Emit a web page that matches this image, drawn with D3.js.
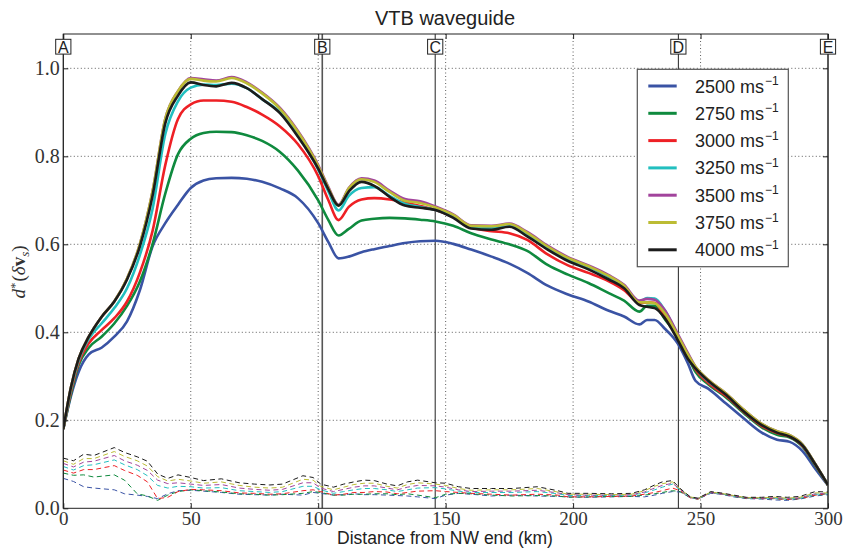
<!DOCTYPE html>
<html><head><meta charset="utf-8">
<script src="https://cdn.jsdelivr.net/npm/d3@7"></script>
<style>body{margin:0;background:#fff}</style>
</head><body><svg id="c" width="844" height="550"></svg>
<script>
// ---------- DATA ----------
const speeds = ["2500","2750","3000","3250","3500","3750","4000"];
const colors = ["#3a53a4","#0f8a3e","#ee2025","#22bfbf","#a2449c","#bcbc34","#1c1c1c"];
const xTicks = [0,50,100,150,200,250,300];
const yTicks = [0,0.2,0.4,0.6,0.8,1.0];
const markers = ["A","B","C","D","E"];
const markerKm = [0,101.6,145.9,241.3,300];

// solid curves: distance (km)
const SX = [0,3,6,10,15,20,25,30,35,40,45,50,55,60,66,72,78,85,92,100,104,108,112,117,122,128,134,140,146,153,160,168,175,182,190,198,206,214,220,226,229,232,236,241,245,248,253,260,267,274,280,285,290,295,300];
const s2500 = [0.18,0.255,0.31,0.35,0.365,0.39,0.425,0.495,0.595,0.648,0.69,0.728,0.745,0.75,0.751,0.749,0.742,0.727,0.705,0.648,0.605,0.568,0.572,0.582,0.589,0.596,0.603,0.607,0.608,0.601,0.588,0.572,0.556,0.535,0.506,0.486,0.47,0.449,0.436,0.418,0.428,0.428,0.408,0.375,0.33,0.29,0.272,0.238,0.204,0.172,0.156,0.151,0.13,0.09,0.052];
const s2750 = [0.18,0.26,0.325,0.365,0.39,0.42,0.46,0.515,0.6,0.715,0.805,0.84,0.853,0.856,0.855,0.848,0.835,0.81,0.768,0.7,0.655,0.62,0.635,0.654,0.658,0.66,0.659,0.656,0.652,0.642,0.625,0.611,0.6,0.585,0.553,0.531,0.512,0.489,0.472,0.447,0.46,0.46,0.43,0.39,0.345,0.31,0.282,0.252,0.216,0.184,0.167,0.161,0.14,0.097,0.053];
const s3000 = [0.18,0.265,0.33,0.375,0.405,0.432,0.47,0.535,0.63,0.78,0.885,0.918,0.927,0.927,0.924,0.912,0.895,0.868,0.828,0.755,0.7,0.655,0.685,0.702,0.705,0.702,0.695,0.687,0.678,0.662,0.638,0.63,0.625,0.61,0.577,0.552,0.535,0.516,0.496,0.467,0.468,0.467,0.435,0.388,0.348,0.316,0.285,0.255,0.219,0.187,0.171,0.163,0.142,0.099,0.053];
const s3250 = [0.18,0.27,0.335,0.385,0.42,0.455,0.5,0.575,0.68,0.85,0.925,0.956,0.963,0.962,0.965,0.955,0.93,0.9,0.848,0.77,0.72,0.677,0.71,0.728,0.73,0.71,0.692,0.685,0.678,0.663,0.638,0.637,0.641,0.622,0.59,0.566,0.548,0.526,0.503,0.47,0.478,0.477,0.45,0.395,0.35,0.32,0.289,0.259,0.222,0.19,0.174,0.165,0.144,0.1,0.053];
const s3500 = [0.18,0.275,0.34,0.39,0.435,0.47,0.522,0.6,0.72,0.885,0.948,0.978,0.975,0.972,0.98,0.968,0.945,0.91,0.858,0.78,0.73,0.69,0.728,0.75,0.745,0.722,0.703,0.698,0.686,0.668,0.643,0.642,0.647,0.628,0.597,0.571,0.552,0.53,0.508,0.472,0.476,0.474,0.45,0.397,0.353,0.322,0.292,0.261,0.224,0.192,0.175,0.166,0.145,0.101,0.053];
const s3750 = [0.18,0.275,0.34,0.39,0.435,0.47,0.522,0.6,0.72,0.885,0.948,0.976,0.972,0.97,0.978,0.966,0.943,0.908,0.856,0.778,0.728,0.688,0.727,0.748,0.742,0.719,0.699,0.694,0.684,0.667,0.642,0.641,0.646,0.626,0.595,0.569,0.55,0.528,0.506,0.468,0.468,0.466,0.443,0.393,0.35,0.322,0.292,0.261,0.224,0.192,0.175,0.166,0.145,0.101,0.053];
const s4000 = [0.18,0.275,0.34,0.39,0.435,0.47,0.52,0.595,0.71,0.875,0.938,0.968,0.962,0.959,0.967,0.955,0.93,0.898,0.845,0.772,0.725,0.688,0.72,0.742,0.733,0.708,0.688,0.683,0.678,0.66,0.636,0.633,0.64,0.618,0.588,0.562,0.543,0.52,0.5,0.462,0.458,0.455,0.432,0.383,0.34,0.318,0.29,0.258,0.22,0.189,0.172,0.163,0.143,0.1,0.053];

// dashed curves: distance (km)
const DX = [0,4,8,12,20,24,29,33,37,41,45,50,55,62,69,75,81,86,94,98,101,106,110,114,118,122,127,131,135,139,146,150,155,160,168,176,186,194,198,206,215,223,228,232,235,239,242,246,249,254,258,263,268,274,279,284,289,295,300];
const d2500 = [0.068,0.061,0.049,0.046,0.042,0.033,0.030,0.027,0.022,0.033,0.040,0.041,0.039,0.036,0.032,0.031,0.030,0.032,0.030,0.036,0.034,0.030,0.031,0.033,0.031,0.031,0.030,0.029,0.028,0.026,0.022,0.030,0.034,0.032,0.028,0.030,0.028,0.027,0.026,0.025,0.026,0.027,0.026,0.030,0.034,0.038,0.037,0.024,0.021,0.034,0.032,0.026,0.022,0.021,0.019,0.018,0.021,0.028,0.031];
const d2750 = [0.080,0.075,0.076,0.071,0.076,0.064,0.033,0.028,0.018,0.030,0.038,0.042,0.040,0.037,0.033,0.032,0.030,0.031,0.034,0.038,0.036,0.030,0.030,0.032,0.032,0.033,0.033,0.031,0.033,0.030,0.024,0.032,0.034,0.033,0.030,0.028,0.029,0.028,0.025,0.026,0.027,0.027,0.030,0.033,0.036,0.040,0.038,0.024,0.021,0.036,0.033,0.027,0.023,0.022,0.022,0.020,0.022,0.030,0.032];
const d3000 = [0.087,0.080,0.088,0.088,0.097,0.086,0.075,0.060,0.022,0.025,0.038,0.043,0.042,0.040,0.035,0.034,0.032,0.033,0.040,0.042,0.038,0.030,0.032,0.036,0.036,0.038,0.037,0.033,0.036,0.039,0.040,0.038,0.036,0.034,0.032,0.030,0.032,0.030,0.026,0.026,0.027,0.028,0.032,0.036,0.040,0.046,0.040,0.024,0.021,0.036,0.033,0.028,0.023,0.022,0.022,0.020,0.022,0.030,0.033];
const d3250 = [0.095,0.087,0.097,0.099,0.110,0.099,0.088,0.074,0.052,0.046,0.050,0.049,0.046,0.047,0.040,0.038,0.036,0.038,0.050,0.050,0.042,0.034,0.038,0.042,0.045,0.045,0.042,0.038,0.042,0.046,0.047,0.044,0.039,0.036,0.036,0.036,0.038,0.033,0.029,0.029,0.029,0.030,0.035,0.042,0.048,0.055,0.042,0.025,0.022,0.036,0.033,0.028,0.023,0.023,0.023,0.021,0.023,0.032,0.033];
const d3500 = [0.102,0.094,0.105,0.107,0.120,0.108,0.098,0.086,0.064,0.056,0.058,0.055,0.052,0.054,0.046,0.043,0.041,0.043,0.058,0.058,0.046,0.038,0.043,0.048,0.051,0.051,0.046,0.042,0.048,0.052,0.051,0.048,0.042,0.038,0.039,0.039,0.041,0.035,0.031,0.030,0.030,0.031,0.037,0.046,0.052,0.057,0.043,0.025,0.022,0.036,0.033,0.028,0.024,0.023,0.024,0.022,0.024,0.033,0.034];
const d3750 = [0.108,0.100,0.113,0.113,0.129,0.118,0.108,0.096,0.072,0.062,0.066,0.062,0.057,0.060,0.052,0.048,0.046,0.048,0.066,0.064,0.050,0.042,0.048,0.054,0.057,0.057,0.050,0.046,0.054,0.058,0.055,0.052,0.045,0.041,0.042,0.042,0.045,0.037,0.032,0.032,0.031,0.032,0.040,0.050,0.056,0.060,0.044,0.026,0.022,0.037,0.034,0.029,0.024,0.024,0.025,0.023,0.025,0.035,0.035];
const d4000 = [0.114,0.108,0.123,0.120,0.138,0.127,0.117,0.107,0.078,0.068,0.076,0.070,0.063,0.067,0.058,0.055,0.053,0.055,0.074,0.070,0.055,0.048,0.055,0.060,0.064,0.063,0.055,0.051,0.060,0.064,0.058,0.057,0.049,0.045,0.045,0.045,0.049,0.040,0.034,0.034,0.033,0.034,0.042,0.053,0.060,0.063,0.045,0.026,0.023,0.038,0.035,0.030,0.025,0.025,0.027,0.025,0.027,0.038,0.037];

const solidSeries = [s2500,s2750,s3000,s3250,s3500,s3750,s4000];
const dashSeries = [d2500,d2750,d3000,d3250,d3500,d3750,d4000];

// ---------- CHART ----------
const svg = d3.select("#c");
const L = 63.3, R = 828, T = 34, B = 508.3;
const x = d3.scaleLinear().domain([0,300]).range([L,R]);
const y = d3.scaleLinear().domain([0,1.078]).range([B,T]);
const serif = "'Liberation Serif','Times New Roman',serif";
const sans = "'Liberation Sans',Arial,Helvetica,sans-serif";

svg.append("defs").append("clipPath").attr("id","clip")
  .append("rect").attr("x",L).attr("y",T).attr("width",R-L).attr("height",B-T);

// grid
const grid = svg.append("g").attr("stroke","#333").attr("stroke-width",0.8).attr("stroke-dasharray","1,2.5");
grid.selectAll(".gx").data(xTicks.slice(1,-1)).enter().append("line")
  .attr("x1",d=>x(d)).attr("x2",d=>x(d)).attr("y1",T).attr("y2",B);
grid.selectAll(".gy").data(yTicks.slice(1)).enter().append("line")
  .attr("x1",L).attr("x2",R).attr("y1",d=>y(d)).attr("y2",d=>y(d));

// marker vertical lines
svg.append("g").selectAll("line").data(markerKm).enter().append("line")
  .attr("x1",d=>x(d)).attr("x2",d=>x(d)).attr("y1",T).attr("y2",B)
  .attr("stroke",(d,i)=>i===1?"#555":"#222").attr("stroke-width",(d,i)=>i===1?1.6:1);

const plot = svg.append("g").attr("clip-path","url(#clip)");
// dashed
const dline = d3.line().x((d,i)=>x(DX[i])).y(d=>y(d));
dashSeries.forEach((s,k)=>{
  plot.append("path").attr("d",dline(s)).attr("fill","none")
    .attr("stroke",colors[k]).attr("stroke-width",1).attr("stroke-dasharray","5,3.5");
});
// solid
const sline = d3.line().x((d,i)=>x(SX[i])).y(d=>y(d)).curve(d3.curveMonotoneX);
solidSeries.forEach((s,k)=>{
  plot.append("path").attr("d",sline(s)).attr("fill","none")
    .attr("stroke",colors[k]).attr("stroke-width",2.6).attr("stroke-linejoin","round");
});

// frame
svg.append("rect").attr("x",L).attr("y",T).attr("width",R-L).attr("height",B-T)
  .attr("fill","none").attr("stroke","#222").attr("stroke-width",1);

// axes
const styleAxis = g => { g.select(".domain").remove(); g.selectAll(".tick line").attr("stroke","#222"); };
const xb = svg.append("g").attr("transform",`translate(0,${B})`)
  .call(d3.axisBottom(x).tickValues(xTicks).tickFormat(d3.format("d")).tickSizeInner(-5).tickSizeOuter(0).tickPadding(3.5));
styleAxis(xb);
xb.selectAll("text").attr("font-family",serif).attr("font-size",19).attr("fill","#333");
const xt = svg.append("g").attr("transform",`translate(0,${T})`)
  .call(d3.axisTop(x).tickValues(xTicks).tickFormat("").tickSizeInner(-5).tickSizeOuter(0));
styleAxis(xt);
const yl = svg.append("g").attr("transform",`translate(${L},0)`)
  .call(d3.axisLeft(y).tickValues(yTicks).tickFormat(d3.format(".1f")).tickSizeInner(-5).tickSizeOuter(0).tickPadding(3.5));
styleAxis(yl);
yl.selectAll("text").attr("font-family",serif).attr("font-size",20).attr("fill","#333");
const yr = svg.append("g").attr("transform",`translate(${R},0)`)
  .call(d3.axisRight(y).tickValues(yTicks).tickFormat("").tickSizeInner(-5).tickSizeOuter(0));
styleAxis(yr);

// marker boxes
const mg = svg.append("g").selectAll("g").data(markers).enter().append("g")
  .attr("transform",(d,i)=>`translate(${x(markerKm[i])},46.7)`);
mg.append("rect").attr("x",-7.6).attr("y",-7.4).attr("width",15.2).attr("height",14.8)
  .attr("fill","#fff").attr("stroke","#222").attr("stroke-width",1);
mg.append("text").text(d=>d).attr("text-anchor","middle").attr("y",6)
  .attr("font-family",sans).attr("font-size",16).attr("fill","#222");

// legend
const lg = svg.append("g");
lg.append("rect").attr("x",637.3).attr("y",69.3).attr("width",151).attr("height",197.4)
  .attr("fill","#fff").attr("stroke","#555").attr("stroke-width",1.2);
speeds.forEach((s,i)=>{
  const yy = 86 + i*27.3;
  lg.append("line").attr("x1",648.3).attr("x2",676.7).attr("y1",yy).attr("y2",yy)
    .attr("stroke",colors[i]).attr("stroke-width",3);
  const t = lg.append("text").attr("x",695).attr("y",yy+6.5)
    .attr("font-family",sans).attr("font-size",18).attr("fill","#222");
  t.append("tspan").text(s+" ms");
  t.append("tspan").text("\u22121").attr("font-size",12).attr("dy",-7.5).attr("dx",1);
});

// title
svg.append("text").text("VTB waveguide").attr("x",445).attr("y",25)
  .attr("text-anchor","middle").attr("font-family",sans).attr("font-size",20).attr("fill","#222");
// x label
svg.append("text").text("Distance from NW end (km)").attr("x",445).attr("y",544)
  .attr("text-anchor","middle").attr("font-family",sans).attr("font-size",17.5).attr("fill","#222");
// y label
const ylab = svg.append("text").attr("transform","translate(25,272) rotate(-90)")
  .attr("text-anchor","middle").attr("font-family",serif).attr("font-size",19).attr("fill","#333");
ylab.append("tspan").text("d").attr("font-style","italic");
ylab.append("tspan").text("*").attr("font-size",13).attr("dy",-6);
ylab.append("tspan").text("(").attr("dy",6).attr("dx",1);
ylab.append("tspan").text("δ").attr("font-style","italic");
ylab.append("tspan").text("v").attr("font-weight","bold");
ylab.append("tspan").text("s").attr("font-style","italic").attr("font-size",13).attr("dy",4);
ylab.append("tspan").text(")").attr("dy",-4);
</script></body></html>
